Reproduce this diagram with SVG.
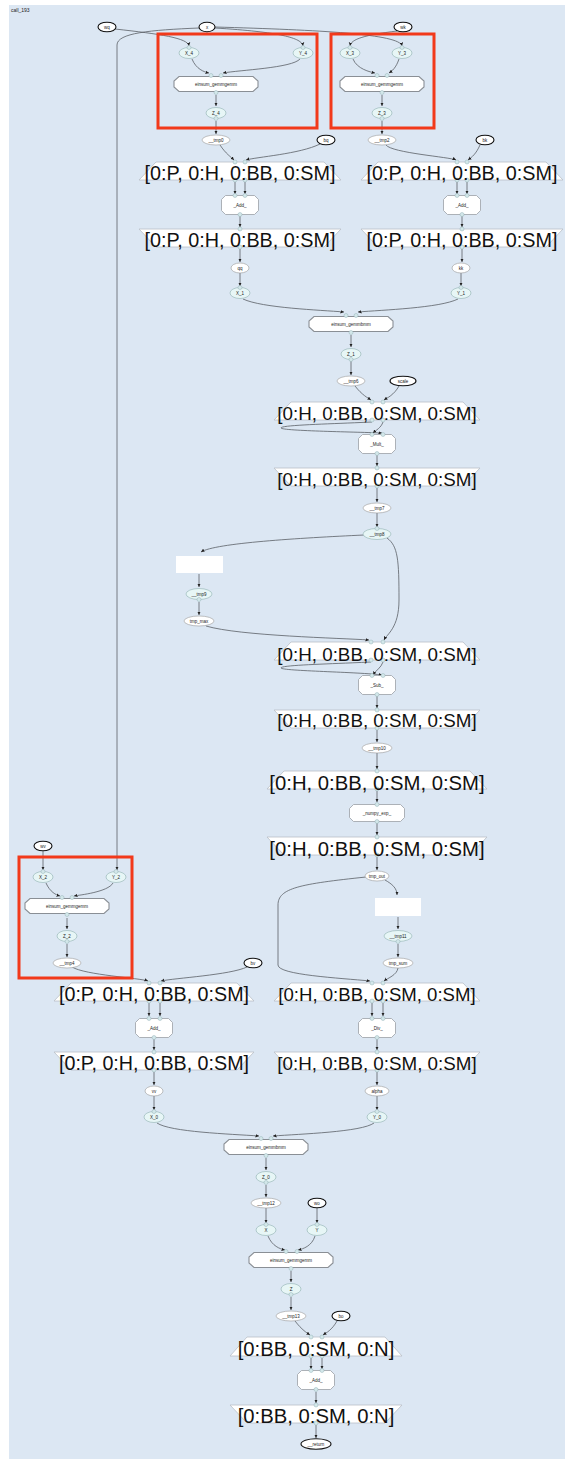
<svg xmlns="http://www.w3.org/2000/svg" xmlns:xlink="http://www.w3.org/1999/xlink" width="565" height="1459" viewBox="0 0 565 1459">
<style>
text{font-family:"Liberation Sans",Arial,sans-serif;fill:#222}
.s{font-size:4.5px;text-anchor:middle}
.big{text-anchor:middle;fill:#111}
.in{fill:#fff;stroke:#111;stroke-width:1.1}
.tr{fill:#fff;stroke:#999;stroke-width:0.6}
.cn{fill:#e7f6f6;stroke:#8fb0b0;stroke-width:0.6}
.pt{fill:#d3e7ea;stroke:#97b4b8;stroke-width:0.5}
.box{fill:#fff;stroke:#b9bfc6;stroke-width:0.8}
.tk{fill:#fff;stroke:#9aa0a6;stroke-width:0.8}
.es{fill:#fff;stroke:#8a8f95;stroke-width:1.1}
.blank{fill:#fff}
.red{fill:none;stroke:#f2391a;stroke-width:3}
.e{fill:none;stroke:#5a5f66;stroke-width:0.8;marker-end:url(#ah)}
.en{fill:none;stroke:#5a5f66;stroke-width:0.8}
</style>
<defs>
<marker id="ah" markerUnits="userSpaceOnUse" markerWidth="4" markerHeight="4" refX="3.5" refY="2" orient="auto">
<path d="M0,0.3 L3.5,2 L0,3.7 z" fill="#222"/>
</marker>
<polygon id="tasklet" points="-14.5,-9.5 14.5,-9.5 18.5,-5.5 18.5,5.5 14.5,9.5 -14.5,9.5 -18.5,5.5 -18.5,-5.5"/>
<polygon id="tasklet2" points="-23.5,-8.5 23.5,-8.5 27.5,-4.5 27.5,4.5 23.5,8.5 -23.5,8.5 -27.5,4.5 -27.5,-4.5"/>
<polygon id="einsum" points="-37,-7.5 37,-7.5 42,-3 42,3 37,7.5 -37,7.5 -42,3 -42,-3"/>
</defs>
<rect x="0" y="0" width="565" height="1459" fill="#fff"/>
<rect x="9" y="5" width="556" height="1454" fill="#dce7f3"/>
<text x="11" y="12" style="font-size:5px">call_193</text>

<g id="connectors">
<path class="e" d="M115,29 C160,34 188,38 189,46"/>
<path class="e" d="M215,28 C280,32 302,38 303,46"/>
<path class="e" d="M215,27 C320,30 400,34 402,46"/>
<path class="e" d="M397,31 C365,35 351,39 350,46"/>
<path class="e" d="M199,28 C150,30 117,33 117,45 L117,870"/>
<path class="e" d="M43,851 L43,870"/>
<path class="e" d="M192,59 C196,69 204,72 209,73"/>
<path class="e" d="M300,59 C292,68 240,70 223,73"/>
<path class="e" d="M216,95 L216,106"/>
<path class="e" d="M216,121 L216,134"/>
<path class="e" d="M353,59 C357,69 370,72 375,73"/>
<path class="e" d="M399,59 C396,68 392,71 389,73"/>
<path class="e" d="M382,95 L382,106"/>
<path class="e" d="M382,121 L382,134"/>
<path class="e" d="M220,145 C226,154 231,157 234,160"/>
<path class="e" d="M320,144 C300,154 256,157 246,160"/>
<path class="e" d="M235,182 L235,194"/>
<path class="e" d="M245,182 L245,194"/>
<path class="e" d="M240,216 L240,227"/>
<path class="e" d="M240,249 L240,262"/>
<path class="e" d="M240,273 L240,286"/>
<path class="e" d="M386,145 C392,153 450,157 456,160"/>
<path class="e" d="M480,145 C476,154 472,157 468,160"/>
<path class="e" d="M457,182 L457,194"/>
<path class="e" d="M467,182 L467,194"/>
<path class="e" d="M462,216 L462,227"/>
<path class="e" d="M462,249 L462,262"/>
<path class="e" d="M461,273 L461,286"/>
<path class="e" d="M243,299 C262,308 320,310 344,312"/>
<path class="e" d="M458,299 C440,308 382,310 358,312"/>
<path class="e" d="M351,335 L351,347"/>
<path class="e" d="M351,361 L351,375"/>
<path class="e" d="M355,386 C362,395 368,398 371,400"/>
<path class="e" d="M399,386 C394,395 387,398 384,400"/>
<path class="e" d="M372,422 C330,424 280,425 281,428 C282,431 360,432 382,433"/>
<path class="e" d="M383,422 C381,428 376,430 373,433"/>
<path class="e" d="M377,455 L377,466"/>
<path class="e" d="M377,488 L377,502"/>
<path class="e" d="M377,513 L377,527"/>
<path class="e" d="M364,535 C300,538 215,543 201,552"/>
<path class="e" d="M199,574 L199,587"/>
<path class="e" d="M199,602 L199,615"/>
<path class="e" d="M206,626 C240,636 340,638 369,640"/>
<path class="e" d="M387,538 C398,546 399,560 399,600 C399,628 387,634 384,640"/>
<path class="e" d="M371,662 C330,664 280,665 281,668 C282,671 360,672 382,675"/>
<path class="e" d="M383,662 C381,668 376,670 373,675"/>
<path class="e" d="M377,696 L377,708"/>
<path class="e" d="M377,730 L377,742"/>
<path class="e" d="M377,753 L377,769"/>
<path class="e" d="M377,791 L377,802"/>
<path class="e" d="M377,823 L377,835"/>
<path class="e" d="M377,857 L377,870"/>
<path class="e" d="M385,880 C392,884 397,888 397,895"/>
<path class="e" d="M398,917 L398,929"/>
<path class="e" d="M398,944 L398,957"/>
<path class="e" d="M398,968 C397,975 388,978 384,981"/>
<path class="e" d="M366,877 C300,884 278,888 278,905 L278,965 C278,975 340,978 370,981"/>
<path class="e" d="M372,1003 L372,1016"/>
<path class="e" d="M383,1003 L383,1016"/>
<path class="e" d="M377,1039 L377,1050"/>
<path class="e" d="M377,1072 L377,1085"/>
<path class="e" d="M377,1096 L377,1110"/>
<path class="e" d="M374,1123 C362,1132 300,1134 273,1136"/>
<path class="e" d="M46,883 C50,892 56,895 60,896"/>
<path class="e" d="M113,883 C108,892 80,895 74,896"/>
<path class="e" d="M67,918 L67,929"/>
<path class="e" d="M67,944 L67,957"/>
<path class="e" d="M72,967 C85,975 140,978 148,981"/>
<path class="e" d="M247,967 C230,975 175,978 161,981"/>
<path class="e" d="M149,1003 L149,1016"/>
<path class="e" d="M160,1003 L160,1016"/>
<path class="e" d="M154,1039 L154,1050"/>
<path class="e" d="M154,1072 L154,1085"/>
<path class="e" d="M154,1096 L154,1110"/>
<path class="e" d="M157,1123 C170,1132 230,1134 259,1136"/>
<path class="e" d="M266,1158 L266,1170"/>
<path class="e" d="M266,1185 L266,1197"/>
<path class="e" d="M266,1208 L266,1223"/>
<path class="e" d="M317,1208 L317,1223"/>
<path class="e" d="M268,1236 C272,1246 280,1249 285,1250"/>
<path class="e" d="M315,1236 C312,1246 303,1249 298,1250"/>
<path class="e" d="M291,1271 L291,1282"/>
<path class="e" d="M291,1297 L291,1310"/>
<path class="e" d="M295,1321 C302,1330 307,1333 310,1335"/>
<path class="e" d="M337,1321 C332,1330 326,1333 323,1335"/>
<path class="e" d="M311,1358 L311,1369"/>
<path class="e" d="M322,1358 L322,1369"/>
<path class="e" d="M316,1392 L316,1403"/>
<path class="e" d="M316,1425 L316,1438"/>
</g>

<g id="clusters">
<rect class="red" x="158" y="34" width="159" height="94"/>
<rect class="red" x="331" y="34" width="103" height="94"/>
<rect class="red" x="19" y="857" width="113" height="121"/>
</g>

<g id="n_wq"><ellipse class="in" cx="107" cy="27" rx="9" ry="4.8"/><text class="s" x="107" y="28.6">wq</text></g>
<g id="n_x"><ellipse class="in" cx="207" cy="27" rx="8" ry="4.8"/><text class="s" x="207" y="28.6">x</text></g>
<g id="n_wk"><ellipse class="in" cx="403" cy="27" rx="9" ry="4.8"/><text class="s" x="403" y="28.6">wk</text></g>

<g id="n_X_4"><ellipse class="cn" cx="189" cy="53" rx="10" ry="5.5"/><circle class="pt" cx="189" cy="47.5" r="2"/><text class="s" x="189" y="54.6">X_4</text></g>
<g id="n_Y_4"><ellipse class="cn" cx="303" cy="53" rx="10" ry="5.5"/><circle class="pt" cx="303" cy="47.5" r="2"/><text class="s" x="303" y="54.6">Y_4</text></g>
<g id="n_einsum_4"><use href="#einsum" x="216" y="84" class="es"/><circle class="pt" cx="211" cy="75.5" r="2"/><circle class="pt" cx="221" cy="75.5" r="2"/><circle class="pt" cx="216" cy="92.5" r="2"/><text class="s" x="216" y="85.6">einsum_gemmgemm</text></g>
<g id="n_Z_4"><ellipse class="cn" cx="216" cy="113" rx="10" ry="5.5"/><circle class="pt" cx="216" cy="118.5" r="2"/><text class="s" x="216" y="114.6">Z_4</text></g>

<g id="n_X_3"><ellipse class="cn" cx="350" cy="53" rx="10" ry="5.5"/><circle class="pt" cx="350" cy="47.5" r="2"/><text class="s" x="350" y="54.6">X_3</text></g>
<g id="n_Y_3"><ellipse class="cn" cx="402" cy="53" rx="10" ry="5.5"/><circle class="pt" cx="402" cy="47.5" r="2"/><text class="s" x="402" y="54.6">Y_3</text></g>
<g id="n_einsum_3"><use href="#einsum" x="382" y="84" class="es"/><circle class="pt" cx="377" cy="75.5" r="2"/><circle class="pt" cx="387" cy="75.5" r="2"/><circle class="pt" cx="382" cy="92.5" r="2"/><text class="s" x="382" y="85.6">einsum_gemmgemm</text></g>
<g id="n_Z_3"><ellipse class="cn" cx="382" cy="113" rx="10" ry="5.5"/><circle class="pt" cx="382" cy="118.5" r="2"/><text class="s" x="382" y="114.6">Z_3</text></g>

<g id="n_tmp0"><ellipse class="tr" cx="216" cy="140" rx="14" ry="5"/><text class="s" x="216" y="141.6">__tmp0</text></g>
<g id="n_bq"><ellipse class="in" cx="326" cy="140" rx="9" ry="4.8"/><text class="s" x="326" y="141.6">bq</text></g>
<g id="n_tmp2"><ellipse class="tr" cx="382" cy="140" rx="14" ry="5"/><text class="s" x="382" y="141.6">__tmp2</text></g>
<g id="n_bk"><ellipse class="in" cx="485" cy="140" rx="9" ry="4.8"/><text class="s" x="485" y="141.6">bk</text></g>

<g id="n_map1L"><polygon class="box" points="156,162 324,162 341,180 139,180"/><circle class="pt" cx="235" cy="162" r="2"/><circle class="pt" cx="245" cy="162" r="2"/><circle class="pt" cx="235" cy="180" r="2"/><circle class="pt" cx="245" cy="180" r="2"/><text class="big" x="240" y="180" style="font-size:19.8px">[0:P, 0:H, 0:BB, 0:SM]</text></g>
<g id="n_map1R"><polygon class="box" points="378,162 546,162 563,180 361,180"/><circle class="pt" cx="457" cy="162" r="2"/><circle class="pt" cx="467" cy="162" r="2"/><circle class="pt" cx="457" cy="180" r="2"/><circle class="pt" cx="467" cy="180" r="2"/><text class="big" x="462" y="180" style="font-size:19.8px">[0:P, 0:H, 0:BB, 0:SM]</text></g>
<g id="n_add1L"><use href="#tasklet" x="240" y="205" class="tk"/><circle class="pt" cx="235" cy="195.5" r="2"/><circle class="pt" cx="245" cy="195.5" r="2"/><circle class="pt" cx="240" cy="214.5" r="2"/><text class="s" x="240" y="206.6">_Add_</text></g>
<g id="n_add1R"><use href="#tasklet" x="462" y="205" class="tk"/><circle class="pt" cx="457" cy="195.5" r="2"/><circle class="pt" cx="467" cy="195.5" r="2"/><circle class="pt" cx="462" cy="214.5" r="2"/><text class="s" x="462" y="206.6">_Add_</text></g>
<g id="n_mapx1L"><polygon class="box" points="139,229 341,229 324,247 156,247"/><circle class="pt" cx="240" cy="229" r="2"/><circle class="pt" cx="240" cy="247" r="2"/><text class="big" x="240" y="247" style="font-size:19.8px">[0:P, 0:H, 0:BB, 0:SM]</text></g>
<g id="n_mapx1R"><polygon class="box" points="361,229 563,229 546,247 378,247"/><circle class="pt" cx="462" cy="229" r="2"/><circle class="pt" cx="462" cy="247" r="2"/><text class="big" x="462" y="247" style="font-size:19.8px">[0:P, 0:H, 0:BB, 0:SM]</text></g>
<g id="n_qq"><ellipse class="tr" cx="240" cy="268" rx="9" ry="5"/><text class="s" x="240" y="269.6">qq</text></g>
<g id="n_kk"><ellipse class="tr" cx="461" cy="268" rx="9" ry="5"/><text class="s" x="461" y="269.6">kk</text></g>
<g id="n_X_1"><ellipse class="cn" cx="240" cy="293" rx="10" ry="5.5"/><circle class="pt" cx="240" cy="287.5" r="2"/><text class="s" x="240" y="294.6">X_1</text></g>
<g id="n_Y_1"><ellipse class="cn" cx="461" cy="293" rx="10" ry="5.5"/><circle class="pt" cx="461" cy="287.5" r="2"/><text class="s" x="461" y="294.6">Y_1</text></g>
<g id="n_einsum_1"><use href="#einsum" x="351" y="324" class="es"/><circle class="pt" cx="346" cy="315.5" r="2"/><circle class="pt" cx="356" cy="315.5" r="2"/><circle class="pt" cx="351" cy="332.5" r="2"/><text class="s" x="351" y="325.6">einsum_gemmbmm</text></g>
<g id="n_Z_1"><ellipse class="cn" cx="351" cy="354" rx="10" ry="5.5"/><circle class="pt" cx="351" cy="359.5" r="2"/><text class="s" x="351" y="355.6">Z_1</text></g>
<g id="n_tmp6"><ellipse class="tr" cx="351" cy="381" rx="14" ry="5"/><text class="s" x="351" y="382.6">__tmp6</text></g>
<g id="n_scale"><ellipse class="in" cx="403" cy="381" rx="13" ry="4.8"/><text class="s" x="403" y="382.6">scale</text></g>

<g id="n_map3"><polygon class="box" points="291,402 463,402 480,420 274,420"/><circle class="pt" cx="372" cy="402" r="2"/><circle class="pt" cx="383" cy="402" r="2"/><circle class="pt" cx="372" cy="420" r="2"/><circle class="pt" cx="383" cy="420" r="2"/><text class="big" x="377" y="420" style="font-size:18.8px">[0:H, 0:BB, 0:SM, 0:SM]</text></g>
<g id="n_mult"><use href="#tasklet" x="377" y="444" class="tk"/><circle class="pt" cx="372" cy="434.5" r="2"/><circle class="pt" cx="383" cy="434.5" r="2"/><circle class="pt" cx="377" cy="453.5" r="2"/><text class="s" x="377" y="445.6">_Mult_</text></g>
<g id="n_map4"><polygon class="box" points="274,468 480,468 463,486 291,486"/><circle class="pt" cx="377" cy="468" r="2"/><circle class="pt" cx="377" cy="486" r="2"/><text class="big" x="377" y="486" style="font-size:18.8px">[0:H, 0:BB, 0:SM, 0:SM]</text></g>
<g id="n_tmp7"><ellipse class="tr" cx="377" cy="508" rx="14" ry="5"/><text class="s" x="377" y="509.6">__tmp7</text></g>
<g id="n_tmp8"><ellipse class="cn" cx="377" cy="534" rx="14" ry="5.5"/><circle class="pt" cx="377" cy="528.5" r="2"/><text class="s" x="377" y="535.6">__tmp8</text></g>
<g id="n_blank1"><rect class="blank" x="176" y="556" width="47" height="17"/></g>
<g id="n_tmp9"><ellipse class="cn" cx="199" cy="594" rx="13" ry="5.5"/><circle class="pt" cx="199" cy="599.5" r="2"/><text class="s" x="199" y="595.6">__tmp9</text></g>
<g id="n_tmpmax"><ellipse class="tr" cx="199" cy="621" rx="15" ry="5"/><text class="s" x="199" y="622.6">tmp_max</text></g>

<g id="n_map5"><polygon class="box" points="291,642 463,642 480,660 274,660"/><circle class="pt" cx="371" cy="642" r="2"/><circle class="pt" cx="383" cy="642" r="2"/><circle class="pt" cx="371" cy="660" r="2"/><circle class="pt" cx="383" cy="660" r="2"/><text class="big" x="377" y="661" style="font-size:18.8px">[0:H, 0:BB, 0:SM, 0:SM]</text></g>
<g id="n_sub"><use href="#tasklet" x="377" y="685" class="tk"/><circle class="pt" cx="372" cy="675.5" r="2"/><circle class="pt" cx="383" cy="675.5" r="2"/><circle class="pt" cx="377" cy="694.5" r="2"/><text class="s" x="377" y="686.6">_Sub_</text></g>
<g id="n_map6"><polygon class="box" points="274,710 480,710 463,728 291,728"/><circle class="pt" cx="377" cy="710" r="2"/><circle class="pt" cx="377" cy="728" r="2"/><text class="big" x="377" y="727" style="font-size:18.8px">[0:H, 0:BB, 0:SM, 0:SM]</text></g>
<g id="n_tmp10"><ellipse class="tr" cx="377" cy="748" rx="15" ry="5"/><text class="s" x="377" y="749.6">__tmp10</text></g>
<g id="n_map7"><polygon class="box" points="284,771 470,771 487,789 267,789"/><circle class="pt" cx="377" cy="771" r="2"/><circle class="pt" cx="377" cy="789" r="2"/><text class="big" x="377" y="790" style="font-size:20.3px">[0:H, 0:BB, 0:SM, 0:SM]</text></g>
<g id="n_exp"><use href="#tasklet2" x="377" y="813" class="tk"/><circle class="pt" cx="377" cy="804.5" r="2"/><circle class="pt" cx="377" cy="821.5" r="2"/><text class="s" x="377" y="814.6">_numpy_exp_</text></g>
<g id="n_map8"><polygon class="box" points="267,837 487,837 470,855 284,855"/><circle class="pt" cx="377" cy="837" r="2"/><circle class="pt" cx="377" cy="855" r="2"/><text class="big" x="377" y="856" style="font-size:20.3px">[0:H, 0:BB, 0:SM, 0:SM]</text></g>
<g id="n_tmpout"><ellipse class="tr" cx="377" cy="876" rx="12" ry="5"/><text class="s" x="377" y="877.6">tmp_out</text></g>
<g id="n_blank2"><rect class="blank" x="375" y="898" width="46" height="18"/></g>
<g id="n_tmp11"><ellipse class="cn" cx="398" cy="936" rx="14" ry="5.5"/><circle class="pt" cx="398" cy="941.5" r="2"/><text class="s" x="398" y="937.6">__tmp11</text></g>
<g id="n_tmpsum"><ellipse class="tr" cx="398" cy="963" rx="15" ry="5"/><text class="s" x="398" y="964.6">tmp_sum</text></g>
<g id="n_map9"><polygon class="box" points="291,983 463,983 480,1001 274,1001"/><circle class="pt" cx="372" cy="983" r="2"/><circle class="pt" cx="383" cy="983" r="2"/><circle class="pt" cx="372" cy="1001" r="2"/><circle class="pt" cx="383" cy="1001" r="2"/><text class="big" x="377" y="1001" style="font-size:18.6px">[0:H, 0:BB, 0:SM, 0:SM]</text></g>
<g id="n_div"><use href="#tasklet" x="377" y="1028" class="tk"/><circle class="pt" cx="372" cy="1018.5" r="2"/><circle class="pt" cx="383" cy="1018.5" r="2"/><circle class="pt" cx="377" cy="1037.5" r="2"/><text class="s" x="377" y="1029.6">_Div_</text></g>
<g id="n_map10"><polygon class="box" points="274,1052 480,1052 463,1070 291,1070"/><circle class="pt" cx="377" cy="1052" r="2"/><circle class="pt" cx="377" cy="1070" r="2"/><text class="big" x="377" y="1070" style="font-size:18.8px">[0:H, 0:BB, 0:SM, 0:SM]</text></g>
<g id="n_alpha"><ellipse class="tr" cx="377" cy="1091" rx="12" ry="5"/><text class="s" x="377" y="1092.6">alpha</text></g>
<g id="n_Y_0"><ellipse class="cn" cx="377" cy="1117" rx="10" ry="5.5"/><circle class="pt" cx="377" cy="1111.5" r="2"/><text class="s" x="377" y="1118.6">Y_0</text></g>

<g id="n_wv"><ellipse class="in" cx="43" cy="846" rx="9" ry="4.8"/><text class="s" x="43" y="847.6">wv</text></g>
<g id="n_X_2"><ellipse class="cn" cx="43" cy="877" rx="10" ry="5.5"/><circle class="pt" cx="43" cy="871.5" r="2"/><text class="s" x="43" y="878.6">X_2</text></g>
<g id="n_Y_2"><ellipse class="cn" cx="116" cy="877" rx="10" ry="5.5"/><circle class="pt" cx="116" cy="871.5" r="2"/><text class="s" x="116" y="878.6">Y_2</text></g>
<g id="n_einsum_2"><use href="#einsum" x="67" y="906" class="es"/><circle class="pt" cx="62" cy="897.5" r="2"/><circle class="pt" cx="72" cy="897.5" r="2"/><circle class="pt" cx="67" cy="914.5" r="2"/><text class="s" x="67" y="907.6">einsum_gemmgemm</text></g>
<g id="n_Z_2"><ellipse class="cn" cx="67" cy="936" rx="10" ry="5.5"/><circle class="pt" cx="67" cy="941.5" r="2"/><text class="s" x="67" y="937.6">Z_2</text></g>
<g id="n_tmp4"><ellipse class="tr" cx="67" cy="963" rx="14" ry="5"/><text class="s" x="67" y="964.6">__tmp4</text></g>
<g id="n_bv"><ellipse class="in" cx="253" cy="963" rx="9" ry="4.8"/><text class="s" x="253" y="964.6">bv</text></g>
<g id="n_mapL1"><polygon class="box" points="71,983 237,983 254,1001 54,1001"/><circle class="pt" cx="149" cy="983" r="2"/><circle class="pt" cx="160" cy="983" r="2"/><circle class="pt" cx="149" cy="1001" r="2"/><circle class="pt" cx="160" cy="1001" r="2"/><text class="big" x="154" y="1001" style="font-size:19.7px">[0:P, 0:H, 0:BB, 0:SM]</text></g>
<g id="n_addL"><use href="#tasklet" x="154" y="1028" class="tk"/><circle class="pt" cx="149" cy="1018.5" r="2"/><circle class="pt" cx="160" cy="1018.5" r="2"/><circle class="pt" cx="154" cy="1037.5" r="2"/><text class="s" x="154" y="1029.6">_Add_</text></g>
<g id="n_mapL2"><polygon class="box" points="54,1052 254,1052 237,1070 71,1070"/><circle class="pt" cx="154" cy="1052" r="2"/><circle class="pt" cx="154" cy="1070" r="2"/><text class="big" x="154" y="1070" style="font-size:19.7px">[0:P, 0:H, 0:BB, 0:SM]</text></g>
<g id="n_vv"><ellipse class="tr" cx="154" cy="1091" rx="9" ry="5"/><text class="s" x="154" y="1092.6">vv</text></g>
<g id="n_X_0"><ellipse class="cn" cx="154" cy="1117" rx="10" ry="5.5"/><circle class="pt" cx="154" cy="1111.5" r="2"/><text class="s" x="154" y="1118.6">X_0</text></g>

<g id="n_einsum_0"><use href="#einsum" x="266" y="1147" class="es"/><circle class="pt" cx="261" cy="1138.5" r="2"/><circle class="pt" cx="271" cy="1138.5" r="2"/><circle class="pt" cx="266" cy="1155.5" r="2"/><text class="s" x="266" y="1148.6">einsum_gemmbmm</text></g>
<g id="n_Z_0"><ellipse class="cn" cx="266" cy="1177" rx="10" ry="5.5"/><circle class="pt" cx="266" cy="1182.5" r="2"/><text class="s" x="266" y="1178.6">Z_0</text></g>
<g id="n_tmp12"><ellipse class="tr" cx="266" cy="1203" rx="15" ry="5"/><text class="s" x="266" y="1204.6">__tmp12</text></g>
<g id="n_wo"><ellipse class="in" cx="317" cy="1203" rx="9" ry="4.8"/><text class="s" x="317" y="1204.6">wo</text></g>
<g id="n_X"><ellipse class="cn" cx="266" cy="1230" rx="10" ry="5.5"/><circle class="pt" cx="266" cy="1224.5" r="2"/><text class="s" x="266" y="1231.6">X</text></g>
<g id="n_Y"><ellipse class="cn" cx="317" cy="1230" rx="10" ry="5.5"/><circle class="pt" cx="317" cy="1224.5" r="2"/><text class="s" x="317" y="1231.6">Y</text></g>
<g id="n_einsum"><use href="#einsum" x="291" y="1260" class="es"/><circle class="pt" cx="286" cy="1251.5" r="2"/><circle class="pt" cx="297" cy="1251.5" r="2"/><circle class="pt" cx="291" cy="1268.5" r="2"/><text class="s" x="291" y="1261.6">einsum_gemmgemm</text></g>
<g id="n_Z"><ellipse class="cn" cx="291" cy="1289" rx="10" ry="5.5"/><circle class="pt" cx="291" cy="1294.5" r="2"/><text class="s" x="291" y="1290.6">Z</text></g>
<g id="n_tmp13"><ellipse class="tr" cx="291" cy="1316" rx="15" ry="5"/><text class="s" x="291" y="1317.6">__tmp13</text></g>
<g id="n_bo"><ellipse class="in" cx="341" cy="1316" rx="9" ry="4.8"/><text class="s" x="341" y="1317.6">bo</text></g>
<g id="n_mapB1"><polygon class="box" points="247,1337 385,1337 402,1356 230,1356"/><circle class="pt" cx="311" cy="1337" r="2"/><circle class="pt" cx="322" cy="1337" r="2"/><circle class="pt" cx="311" cy="1356" r="2"/><circle class="pt" cx="322" cy="1356" r="2"/><text class="big" x="316" y="1356" style="font-size:20.3px">[0:BB, 0:SM, 0:N]</text></g>
<g id="n_addB"><use href="#tasklet" x="316" y="1380" class="tk"/><circle class="pt" cx="311" cy="1370.5" r="2"/><circle class="pt" cx="322" cy="1370.5" r="2"/><circle class="pt" cx="316" cy="1389.5" r="2"/><text class="s" x="316" y="1381.6">_Add_</text></g>
<g id="n_mapB2"><polygon class="box" points="230,1405 402,1405 385,1423 247,1423"/><circle class="pt" cx="316" cy="1405" r="2"/><circle class="pt" cx="316" cy="1423" r="2"/><text class="big" x="316" y="1423" style="font-size:20.3px">[0:BB, 0:SM, 0:N]</text></g>
<g id="n_return"><ellipse class="in" cx="316" cy="1444" rx="15" ry="5.2"/><text class="s" x="316" y="1445.6">__return</text></g>
</svg>
